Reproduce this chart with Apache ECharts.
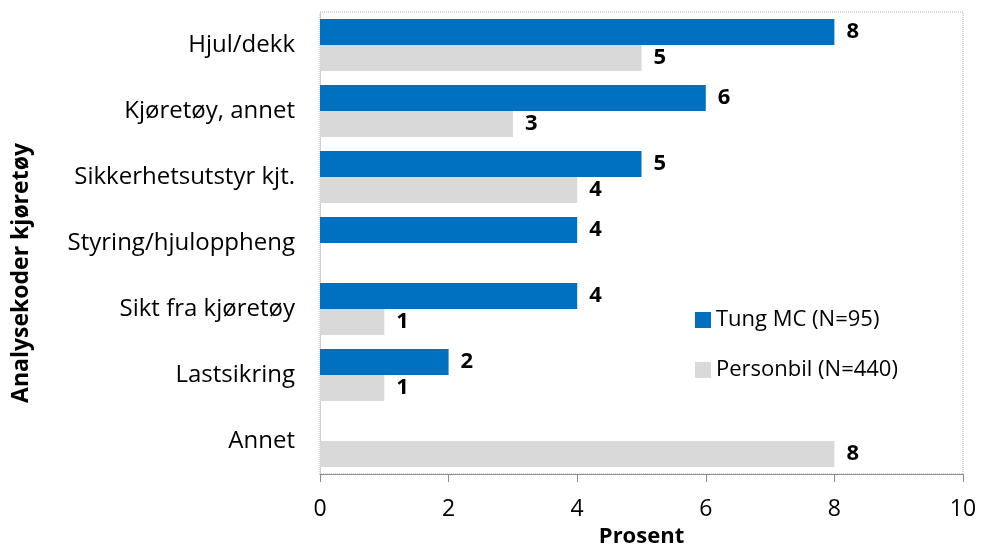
<!DOCTYPE html>
<html>
<head>
<meta charset="utf-8">
<script src="https://cdn.jsdelivr.net/npm/echarts@6/dist/echarts.min.js"></script>
<style>html,body{margin:0;padding:0;background:#fff}#c{width:982px;height:546px}</style>
</head>
<body>
<div id="c"></div>
<script>
var categories = ['Hjul/dekk', 'Kjøretøy, annet', 'Sikkerhetsutstyr kjt.', 'Styring/hjuloppheng', 'Sikt fra kjøretøy', 'Lastsikring', 'Annet'];
var tungMC = [8, 6, 5, 4, 4, 2, null];
var personbil = [5, 3, 4, null, 1, 1, 8];
var xTicks = [0, 2, 4, 6, 8, 10];
var seriesNames = ['Tung MC (N=95)', 'Personbil (N=440)'];

var FONT = 'Open Sans';
var chart = echarts.init(document.getElementById('c'));
var labelCfg = {show: true, position: 'right', distance: 12, color: '#000', fontWeight: 'bold', fontSize: 22, fontFamily: FONT};
chart.setOption({
  animation: false,
  textStyle: {fontFamily: FONT},
  grid: {left: 320, right: 19, top: 12, bottom: 72, outerBoundsMode: 'none', containLabel: false, show: true, borderColor: '#b0b0b0', borderType: 'dotted', borderWidth: 1},
  legend: {
    orient: 'vertical', left: 690, top: 304, itemWidth: 16, itemHeight: 16, itemGap: 28,
    icon: 'rect', textStyle: {fontSize: 22, color: '#000', fontFamily: FONT}, data: seriesNames
  },
  xAxis: {
    type: 'value', min: xTicks[0], max: xTicks[xTicks.length - 1], interval: 2,
    name: 'Prosent', nameLocation: 'middle', nameGap: 51,
    nameTextStyle: {fontSize: 22, fontWeight: 'bold', color: '#000', fontFamily: FONT},
    axisLine: {show: true, lineStyle: {color: '#8c8c8c'}},
    axisTick: {show: true, length: 8, lineStyle: {color: '#8c8c8c'}},
    axisLabel: {fontSize: 23, color: '#000', margin: 24, fontFamily: FONT},
    splitLine: {show: false}
  },
  yAxis: {
    type: 'category', data: categories, inverse: true,
    axisLine: {show: true, lineStyle: {color: '#d0d0d0'}},
    axisTick: {show: false},
    axisLabel: {fontSize: 24, color: '#000', margin: 25, fontFamily: FONT}
  },
  graphic: [{
    type: 'text', left: 10, top: 'middle', rotation: Math.PI / 2,
    style: {text: 'Analysekoder kjøretøy', font: 'bold 23px "' + FONT + '"', fill: '#000'}
  }],
  series: [
    {name: seriesNames[0], type: 'bar', data: tungMC, barWidth: 26, barGap: '0%', itemStyle: {color: '#0070C0'}, label: labelCfg},
    {name: seriesNames[1], type: 'bar', data: personbil, barWidth: 26, barGap: '0%', itemStyle: {color: '#D9D9D9'}, label: labelCfg}
  ]
});
</script>
</body>
</html>
